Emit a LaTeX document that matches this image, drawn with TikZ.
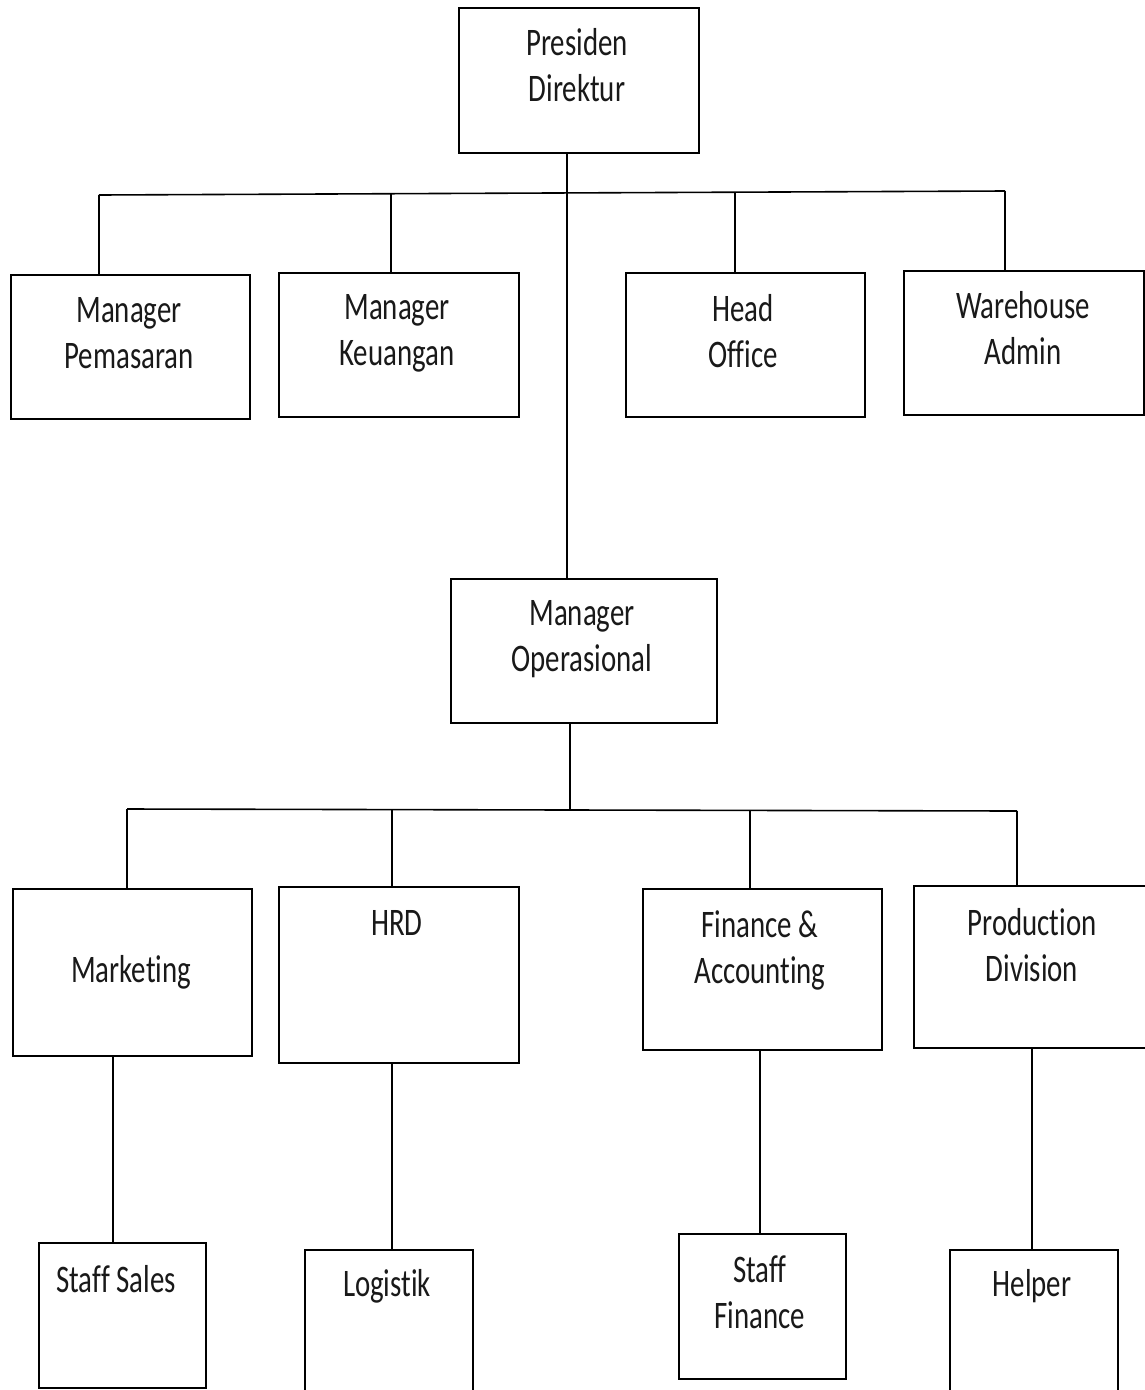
\documentclass[tikz,border=0pt]{standalone}
\usepackage{fontspec}
\newfontfamily\orgfont[FakeStretch=0.74,Ligatures={NoCommon}]{Carlito}
\tikzset{
  box/.style={draw=black, line width=1.8pt, fill=none, inner sep=0pt, anchor=north west},
  lbl/.style={font=\orgfont\fontsize{39}{46}\selectfont, align=center, inner sep=0pt, text=black!90},
  link/.style={draw=black, line width=1.6pt}
}
\begin{document}
\begin{tikzpicture}[x=1pt,y=-1pt]
\clip (0,0) rectangle (1145,1390);
\fill[white] (0,0) rectangle (1145,1390);

% level 1
\node[box, minimum width=240pt, minimum height=145pt] (pd) at (458,7) {};
\node[lbl] (pdt) at (577,65) {Presiden\\Direktur};

% level 2
\node[box, minimum width=239pt, minimum height=144pt] (mp) at (10,274) {};
\node[lbl] (mpt) at (129,333) {Manager\\Pemasaran};
\node[box, minimum width=240pt, minimum height=144pt] (mk) at (278,272) {};
\node[lbl] (mkt) at (397,333) {Manager\\Keuangan};
\node[box, minimum width=239pt, minimum height=144pt] (ho) at (625,272) {};
\node[lbl] (hot) at (743,331) {Head\\Office};
\node[box, minimum width=240pt, minimum height=144pt] (wa) at (903,270) {};
\node[lbl] (wat) at (1023,328) {Warehouse\\Admin};

% level 2b
\node[box, minimum width=266pt, minimum height=144pt] (mo) at (450,578) {};
\node[lbl] (mot) at (582,639) {Manager\\Operasional};

% level 3
\node[box, minimum width=239pt, minimum height=167pt] (mkg) at (12,888) {};
\node[lbl] (mkgt) at (131,972) {Marketing};
\node[box, minimum width=240pt, minimum height=176pt] (hrd) at (278,886) {};
\node[lbl] (hrdt) at (397,923) {HRD};
\node[box, minimum width=239pt, minimum height=161pt] (fa) at (642,888) {};
\node[lbl] (fat) at (760,950) {Finance \&\\Accounting};
\node[box, minimum width=245pt, minimum height=162pt] (prd) at (913,885) {};
\node[lbl] (prdt) at (1032,945) {Production\\Division};

% level 4
\node[box, minimum width=167pt, minimum height=145pt] (ss) at (38,1242) {};
\node[lbl] (sst) at (116,1279) {Staff Sales};
\node[box, minimum width=168pt, minimum height=160pt] (lg) at (304,1249) {};
\node[lbl] (lgt) at (387,1286) {Logistik};
\node[box, minimum width=167pt, minimum height=145pt] (sf) at (678,1233) {};
\node[lbl] (sft) at (760,1292) {Staff\\Finance};
\node[box, minimum width=168pt, minimum height=160pt] (hp) at (949,1249) {};
\node[lbl] (hpt) at (1032,1286) {Helper};

% connectors top level
\coordinate (h1l) at (99,195);
\coordinate (h1r) at (1005,191);
\coordinate (h1c) at (567,193);
\draw[link] (h1l) -- (h1r);
\draw[link] (pd.south -| h1c) -- (mo.north -| h1c);
\draw[link] (h1l) -- (h1l |- mp.north);
\draw[link] (391,194) coordinate (d2) -- (d2 |- mk.north);
\draw[link] (735,192) coordinate (d3) -- (d3 |- ho.north);
\draw[link] (h1r) -- (h1r |- wa.north);

% connectors middle level
\coordinate (h2l) at (127,809);
\coordinate (h2r) at (1017,811);
\coordinate (h2c) at (570,810);
\draw[link] (h2l) -- (h2r);
\draw[link] (mo.south -| h2c) -- (h2c);
\draw[link] (h2l) -- (h2l |- mkg.north);
\draw[link] (392,810) coordinate (e2) -- (e2 |- hrd.north);
\draw[link] (750,810) coordinate (e3) -- (e3 |- fa.north);
\draw[link] (h2r) -- (h2r |- prd.north);

% connectors bottom level
\coordinate (f1) at (113,0);
\coordinate (f2) at (392,0);
\coordinate (f3) at (760,0);
\coordinate (f4) at (1032,0);
\draw[link] (mkg.south -| f1) -- (ss.north -| f1);
\draw[link] (hrd.south -| f2) -- (lg.north -| f2);
\draw[link] (fa.south -| f3) -- (sf.north -| f3);
\draw[link] (prd.south -| f4) -- (hp.north -| f4);
\end{tikzpicture}
\end{document}
